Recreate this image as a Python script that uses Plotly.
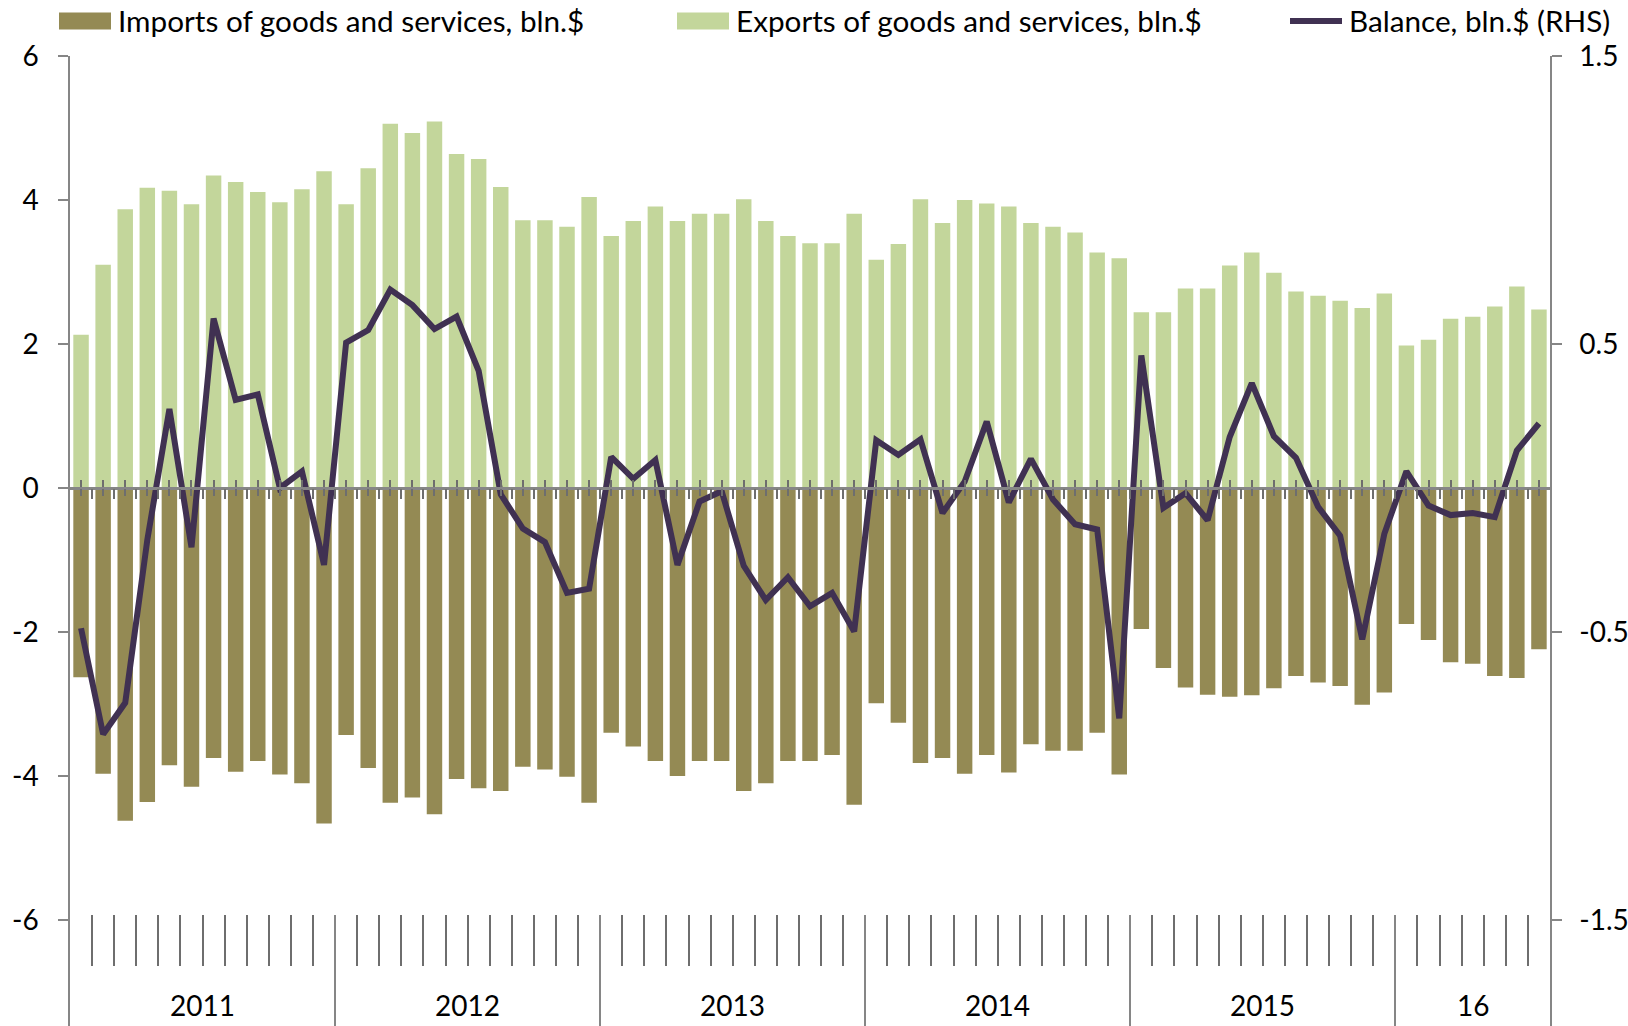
import plotly.graph_objects as go

# ---------------- data ----------------
years = ["2011", "2012", "2013", "2014", "2015", "16"]
months_per_year = [12, 12, 12, 12, 12, 7]

exports = [2.13, 3.10, 3.87, 4.17, 4.13, 3.94, 4.34, 4.25, 4.11, 3.97, 4.15, 4.40,
           3.94, 4.44, 5.06, 4.93, 5.09, 4.64, 4.57, 4.18, 3.72, 3.72, 3.63, 4.04,
           3.50, 3.71, 3.91, 3.71, 3.81, 3.81, 4.01, 3.71, 3.50, 3.40, 3.40, 3.81,
           3.17, 3.39, 4.01, 3.68, 4.00, 3.95, 3.91, 3.68, 3.63, 3.55, 3.27, 3.19,
           2.44, 2.44, 2.77, 2.77, 3.09, 3.27, 2.99, 2.73, 2.67, 2.60, 2.50, 2.70,
           1.98, 2.06, 2.35, 2.38, 2.52, 2.80, 2.48]

imports = [-2.63, -3.97, -4.62, -4.36, -3.85, -4.15, -3.75, -3.94, -3.79, -3.98, -4.10, -4.66,
           -3.43, -3.89, -4.37, -4.30, -4.53, -4.04, -4.17, -4.21, -3.87, -3.91, -4.01, -4.37,
           -3.40, -3.59, -3.79, -4.00, -3.79, -3.79, -4.21, -4.10, -3.79, -3.79, -3.71, -4.40,
           -2.99, -3.26, -3.82, -3.75, -3.97, -3.71, -3.95, -3.56, -3.65, -3.65, -3.40, -3.98,
           -1.96, -2.50, -2.77, -2.87, -2.90, -2.88, -2.78, -2.61, -2.70, -2.75, -3.01, -2.84,
           -1.89, -2.11, -2.42, -2.44, -2.61, -2.64, -2.24]

balance = [-0.487, -0.855, -0.746, -0.180, 0.274, -0.206, 0.588, 0.306, 0.325, 0.000, 0.058, -0.267,
           0.505, 0.548, 0.689, 0.635, 0.552, 0.595, 0.407, -0.022, -0.141, -0.188, -0.364, -0.350,
           0.108, 0.032, 0.097, -0.267, -0.047, -0.011, -0.270, -0.389, -0.310, -0.411, -0.364, -0.498,
           0.166, 0.115, 0.169, -0.087, 0.022, 0.231, -0.050, 0.101, -0.040, -0.126, -0.144, -0.800,
           0.460, -0.069, -0.018, -0.112, 0.177, 0.364, 0.180, 0.105, -0.065, -0.166, -0.526, -0.159,
           0.058, -0.061, -0.094, -0.087, -0.101, 0.130, 0.224]

left_ticks = [-6, -4, -2, 0, 2, 4, 6]
right_ticks = [-1.5, -0.5, 0.5, 1.5]

legend_names = ["Imports of goods and services, bln.$",
                "Exports of goods and services, bln.$",
                "Balance, bln.$ (RHS)"]

# ---------------- styling ----------------
C_IMP = "#948A54"
C_EXP = "#C3D69B"
C_BAL = "#403152"
C_AX = "#868686"
C_TICK = "#6E6E6E"
FONT = "Lato"
FS_TICK = 28
FS_LEG = 29.7

n = len(exports)
x = list(range(n))

W, H = 1628, 1026
ML, MR, MT, MB = 70, 78, 56, 0
plot_h = H - MT - MB
px_per_unit = 72.0
y_max = 6.0
y_min = y_max - plot_h / px_per_unit
ratio = 4.0

fig = go.Figure()
fig.add_trace(go.Bar(x=x, y=exports, marker=dict(color=C_EXP, line=dict(width=0)),
                     width=0.7, xaxis="x", yaxis="y", name=legend_names[1], showlegend=False))
fig.add_trace(go.Bar(x=x, y=imports, marker=dict(color=C_IMP, line=dict(width=0)),
                     width=0.7, xaxis="x", yaxis="y", name=legend_names[0], showlegend=False))
fig.add_trace(go.Scatter(x=x, y=balance, mode="lines", line=dict(color=C_BAL, width=6),
                         xaxis="x", yaxis="y2", name=legend_names[2], showlegend=False))

# year boundaries / month boundaries
bounds = []
acc = 0
centers = []
for m in months_per_year:
    centers.append(acc + (m - 1) / 2.0)
    acc += m
    bounds.append(acc - 0.5)
year_bounds = bounds[:-1]
month_bounds = [i + 0.5 for i in range(n - 1) if (i + 0.5) not in year_bounds]

xr = [-0.5, n - 0.5]
bottom_pos = (H - 914 - MB) / plot_h
zero_pos = (0 - y_min) / (y_max - y_min)

fig.update_layout(
    width=W, height=H, autosize=False,
    margin=dict(l=ML, r=MR, t=MT, b=MB, autoexpand=False),
    paper_bgcolor="white", plot_bgcolor="white",
    barmode="relative", bargap=0.3,
    font=dict(family=FONT, size=FS_TICK, color="black"),
    xaxis=dict(range=xr, anchor="free", position=bottom_pos, showline=False,
               showgrid=False, zeroline=False, showticklabels=False, automargin=False,
               tickmode="array", tickvals=year_bounds, ticks="outside", ticklen=125,
               tickwidth=1.5, tickcolor=C_AX,
               minor=dict(tickmode="array", tickvals=month_bounds, ticks="outside",
                          ticklen=51, tickwidth=2, tickcolor=C_TICK)),
    xaxis4=dict(range=xr, overlaying="x", anchor="free", position=zero_pos,
                showline=True, linecolor=C_AX, linewidth=2.5, showgrid=False,
                zeroline=False, showticklabels=False, automargin=False,
                tickmode="array", tickvals=x,
                ticks="inside", ticklen=7, tickwidth=2, tickcolor=C_TICK),
    xaxis5=dict(range=xr, overlaying="x", anchor="free", position=zero_pos,
                showline=False, showgrid=False, zeroline=False, showticklabels=False,
                automargin=False,
                tickmode="array", tickvals=x, ticks="outside", ticklen=7, tickwidth=2,
                tickcolor=C_TICK,
                minor=dict(tickmode="array", tickvals=[i + 0.5 for i in range(n - 1)],
                           ticks="outside", ticklen=10, tickwidth=2, tickcolor=C_TICK)),
    yaxis=dict(range=[y_min, y_max], tickmode="array", tickvals=left_ticks,
               ticktext=[str(v) for v in left_ticks], automargin=False,
               ticks="outside", ticklen=10, tickwidth=1.5, tickcolor=C_AX,
               showline=True, linecolor=C_AX, linewidth=1.5, showgrid=False,
               zeroline=False, ticklabelstandoff=14, tickfont=dict(size=FS_TICK)),
    yaxis2=dict(range=[y_min / ratio, y_max / ratio], overlaying="y", side="right",
                anchor="x", tickmode="array", tickvals=right_ticks,
                ticktext=[("%g" % v) for v in right_ticks], automargin=False,
                ticks="outside", ticklen=10, tickwidth=1.5, tickcolor=C_AX,
                showline=True, linecolor=C_AX, linewidth=1.5, showgrid=False,
                zeroline=False, ticklabelstandoff=12, tickfont=dict(size=FS_TICK)),
)

# dummy traces to make overlay axes render
for ax in ["x4", "x5"]:
    fig.add_trace(go.Scatter(x=[None], y=[None], xaxis=ax, yaxis="y",
                             showlegend=False, hoverinfo="skip"))

# year labels
ann = []
for c, yl in zip(centers, years):
    ann.append(dict(x=c, y=(H - 1005 - MB) / plot_h, xref="x", yref="paper",
                    text=yl, showarrow=False, xanchor="center", yanchor="middle",
                    font=dict(family=FONT, size=FS_TICK, color="black")))

# custom legend
def px2x(p):
    return (p - ML) / (W - ML - MR)

def py2y(p):
    return (H - MB - p) / plot_h

shapes = []
leg_y = 21
items = [(59, 111, 116, "rect", C_IMP, legend_names[0]),
         (677, 729, 734, "rect", C_EXP, legend_names[1]),
         (1290, 1342, 1347, "line", C_BAL, legend_names[2])]
for x0, x1, xt, kind, col, name in items:
    if kind == "rect":
        shapes.append(dict(type="rect", xref="paper", yref="paper",
                           x0=px2x(x0), x1=px2x(x1), y0=py2y(leg_y + 8.5), y1=py2y(leg_y - 8.5),
                           fillcolor=col, line=dict(width=0)))
    else:
        shapes.append(dict(type="line", xref="paper", yref="paper",
                           x0=px2x(x0), x1=px2x(x1), y0=py2y(leg_y), y1=py2y(leg_y),
                           line=dict(color=col, width=6)))
    ann.append(dict(x=px2x(xt), y=py2y(leg_y), xref="paper", yref="paper", text=name,
                    showarrow=False, xanchor="left", yanchor="middle",
                    font=dict(family=FONT, size=FS_LEG, color="black")))

fig.update_layout(annotations=ann, shapes=shapes)
fig.write_html("out.html",
               config={"displayModeBar": False, "staticPlot": False},
               post_script="document.body.style.margin='0';document.body.style.overflow='hidden';")
